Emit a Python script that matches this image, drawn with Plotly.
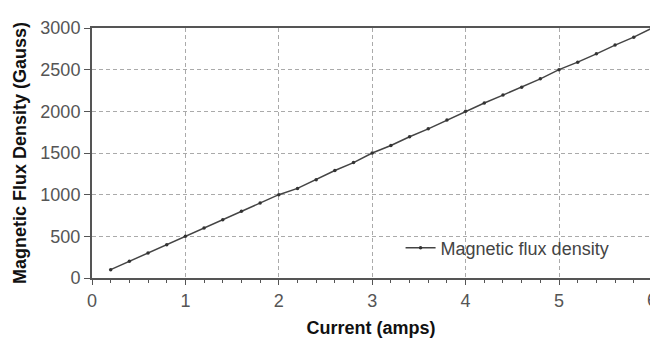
import plotly.graph_objects as go

current = [0.2, 0.4, 0.6, 0.8, 1.0, 1.2, 1.4, 1.6, 1.8, 2.0,
           2.2, 2.4, 2.6, 2.8, 3.0, 3.2, 3.4, 3.6, 3.8, 4.0,
           4.2, 4.4, 4.6, 4.8, 5.0, 5.2, 5.4, 5.6, 5.8, 6.0]
flux = [100, 200, 300, 400, 500, 600, 700, 800, 900, 1000,
        1075, 1180, 1290, 1385, 1500, 1590, 1695, 1790, 1895, 2000,
        2100, 2195, 2290, 2390, 2500, 2590, 2690, 2795, 2890, 3000]
x_ticks = [0, 1, 2, 3, 4, 5]
y_ticks = [0, 500, 1000, 1500, 2000, 2500, 3000]

FONT = "Liberation Sans, Arial, sans-serif"

fig = go.Figure()
fig.add_trace(go.Scatter(
    x=current, y=flux, mode="lines+markers",
    name="Magnetic flux density",
    line=dict(color="#444444", width=1.5),
    marker=dict(color="#333333", size=3.5),
    cliponaxis=False,
))

fig.update_layout(
    width=650, height=341,
    margin=dict(l=92, r=0, t=28, b=63),
    paper_bgcolor="white", plot_bgcolor="white",
    font=dict(family=FONT, size=18, color="#555555"),
    showlegend=True,
    legend=dict(x=0.553, y=0.12, xanchor="left", yanchor="middle",
                bgcolor="rgba(0,0,0,0)", font=dict(size=18, color="#444444")),
    xaxis=dict(
        range=[0, 5.974], tickvals=x_ticks, ticktext=[str(v) for v in x_ticks],
        showline=True, linecolor="#555555", linewidth=2, mirror=True,
        ticks="outside", ticklen=5, tickcolor="#555555", tickwidth=1,
        showgrid=True, gridcolor="#aaaaaa", gridwidth=1, griddash="4px,3px",
        zeroline=False,
        minor=dict(dtick=0.2, tick0=0, ticks="outside", ticklen=3, tickcolor="#555555", showgrid=False),
        tickfont=dict(size=18, color="#555555"),
        title=dict(text="<b>Current (amps)</b>", font=dict(size=18, color="#111111"), standoff=12),
    ),
    yaxis=dict(
        range=[0, 3000], tickvals=y_ticks,
        showline=True, linecolor="#555555", linewidth=2,
        ticks="outside", ticklen=6, tickcolor="#555555", tickwidth=1,
        showgrid=True, gridcolor="#aaaaaa", gridwidth=1, griddash="4px,3px",
        zeroline=False,
        tickfont=dict(size=18, color="#555555"),
        title=dict(text="<b>Magnetic Flux Density (Gauss)</b>", font=dict(size=18, color="#111111"), standoff=9),
    ),
)

fig.add_annotation(x=1.0036, y=-0.088, xref="paper", yref="paper", text="6",
                   showarrow=False, xanchor="center", yanchor="middle",
                   font=dict(size=18, color="#555555"))

fig.write_html("out.html")
